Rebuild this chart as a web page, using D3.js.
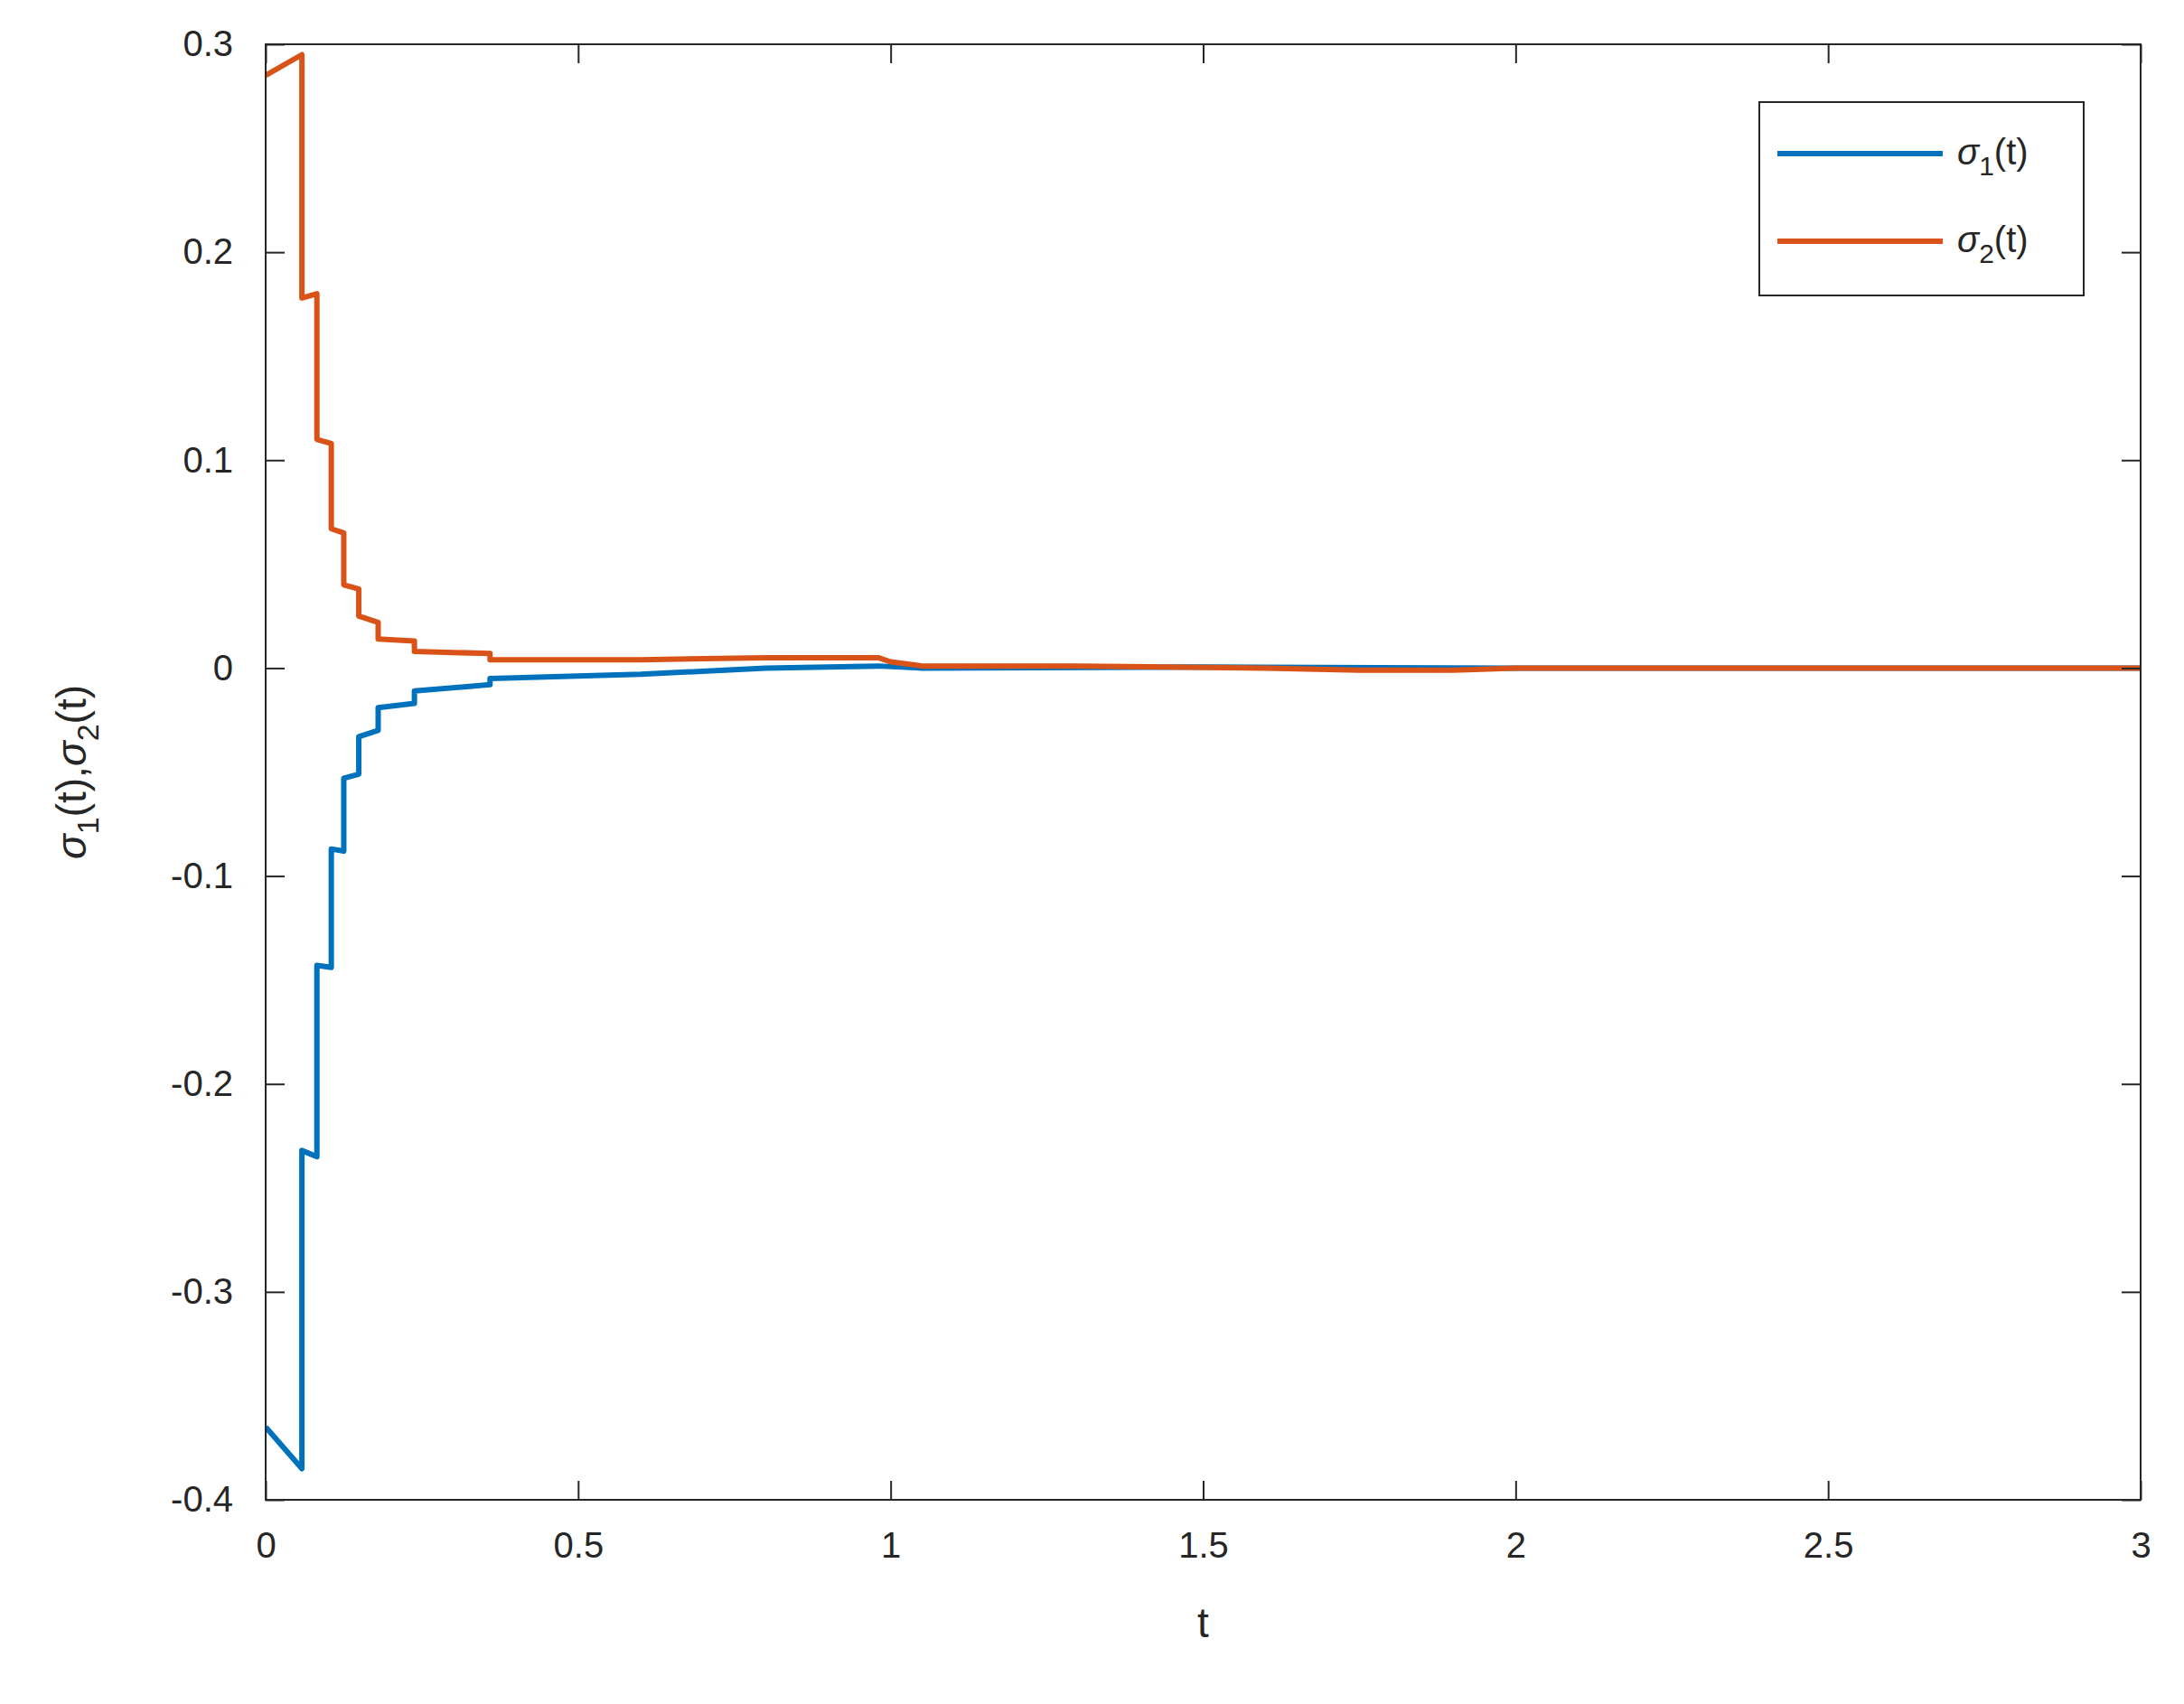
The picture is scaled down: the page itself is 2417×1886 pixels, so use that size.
<!DOCTYPE html>
<html><head><meta charset="utf-8">
<script src="https://cdn.jsdelivr.net/npm/d3@7/dist/d3.min.js"></script>
<style>body{margin:0;background:#fff}text{font-family:"Liberation Sans",Arial,sans-serif;fill:#262626}</style>
</head><body><div class="chart"></div>
<script>
// sigma_1(t), step-like response
const t1 = [0,0.058,0.058,0.082,0.082,0.105,0.105,0.125,0.125,0.149,0.149,0.18,0.18,0.238,0.238,0.359,0.359,0.6,0.8,0.98,1.05,1.5,2,3];
const v1 = [-0.365,-0.385,-0.232,-0.235,-0.143,-0.144,-0.087,-0.088,-0.053,-0.051,-0.033,-0.030,-0.019,-0.017,-0.011,-0.008,-0.005,-0.003,0,0.001,0,0.0005,0,0];
// sigma_2(t)
const t2 = [0,0.058,0.058,0.082,0.082,0.105,0.105,0.125,0.125,0.149,0.149,0.18,0.18,0.238,0.238,0.359,0.359,0.6,0.8,0.98,1.0,1.05,1.3,1.6,1.75,1.9,2.0,3];
const v2 = [0.285,0.295,0.178,0.180,0.110,0.108,0.067,0.065,0.040,0.038,0.025,0.022,0.014,0.013,0.008,0.007,0.004,0.004,0.005,0.005,0.003,0.001,0.001,0,-0.001,-0.001,0,0];
const xTicks = [0,0.5,1,1.5,2,2.5,3];
const yTicks = [-0.4,-0.3,-0.2,-0.1,0,0.1,0.2,0.3];
const seriesNames = ["1","2"];
const colors = ["#0072BD","#D95319"];

const W = 2417, H = 1886;
const m = {l:294, r:2369, t:49, b:1660};
const svg = d3.select(".chart").append("svg").attr("width",W).attr("height",H);
const x = d3.scaleLinear().domain([0,3]).range([m.l,m.r]);
const y = d3.scaleLinear().domain([-0.4,0.3]).range([m.b,m.t]);
const tl = 21;

const line = d3.line().x(d=>x(d[0])).y(d=>y(d[1]));
const clip = svg.append("clipPath").attr("id","c").append("rect")
  .attr("x",m.l).attr("y",m.t).attr("width",m.r-m.l).attr("height",m.b-m.t);
const g = svg.append("g").attr("clip-path","url(#c)");
[[t1,v1],[t2,v2]].forEach(([ts,vs],i)=>{
  g.append("path").datum(ts.map((t,k)=>[t,vs[k]]))
   .attr("d",line).attr("fill","none").attr("stroke",colors[i])
   .attr("stroke-width",6).attr("stroke-linejoin","round");
});

// axes
const fmt = d=>String(+d.toFixed(1));
const ax = (gen, tr) => svg.append("g").attr("transform",tr).call(gen);
const styleAx = s => { s.select(".domain").remove(); s.selectAll("line").attr("stroke","#262626").attr("stroke-width",2);
  s.selectAll("text").style("font-size","40px").attr("fill","#262626"); };
styleAx(ax(d3.axisBottom(x).tickValues(xTicks).tickFormat(fmt).tickSizeInner(-tl).tickPadding(36), `translate(0,${m.b})`));
styleAx(ax(d3.axisTop(x).tickValues(xTicks).tickFormat("").tickSizeInner(-tl), `translate(0,${m.t})`));
styleAx(ax(d3.axisLeft(y).tickValues(yTicks).tickFormat(fmt).tickSizeInner(-tl).tickPadding(36), `translate(${m.l},0)`));
styleAx(ax(d3.axisRight(y).tickValues(yTicks).tickFormat("").tickSizeInner(-tl), `translate(${m.r},0)`));
svg.append("rect").attr("x",m.l).attr("y",m.t).attr("width",m.r-m.l).attr("height",m.b-m.t)
  .attr("fill","none").attr("stroke","#262626").attr("stroke-width",2);

svg.append("text").attr("x",(m.l+m.r)/2).attr("y",1812).attr("text-anchor","middle")
  .style("font-size","46px").text("t");

// y label with subscripts
const yl = svg.append("text").attr("transform",`translate(95,${(m.t+m.b)/2}) rotate(-90)`)
  .attr("text-anchor","middle").style("font-size","46px");
seriesNames.forEach((n,i)=>{
  yl.append("tspan").style("font-style","italic").text("σ");
  yl.append("tspan").attr("dy",14).style("font-size","34px").text(n);
  yl.append("tspan").attr("dy",-14).text(i===0?"(t),":"(t)");
});

// legend
const lg = svg.append("g");
lg.append("rect").attr("x",1947).attr("y",113).attr("width",359).attr("height",214)
  .attr("fill","#fff").attr("stroke","#262626").attr("stroke-width",2);
seriesNames.forEach((n,i)=>{
  const yy = 170 + i*97;
  lg.append("line").attr("x1",1967).attr("x2",2150).attr("y1",yy).attr("y2",yy)
    .attr("stroke",colors[i]).attr("stroke-width",6);
  const t = lg.append("text").attr("x",2166).attr("y",yy+12).style("font-size","40px");
  t.append("tspan").style("font-style","italic").text("σ");
  t.append("tspan").attr("dy",12).style("font-size","30px").text(n);
  t.append("tspan").attr("dy",-12).text("(t)");
});
</script></body></html>
